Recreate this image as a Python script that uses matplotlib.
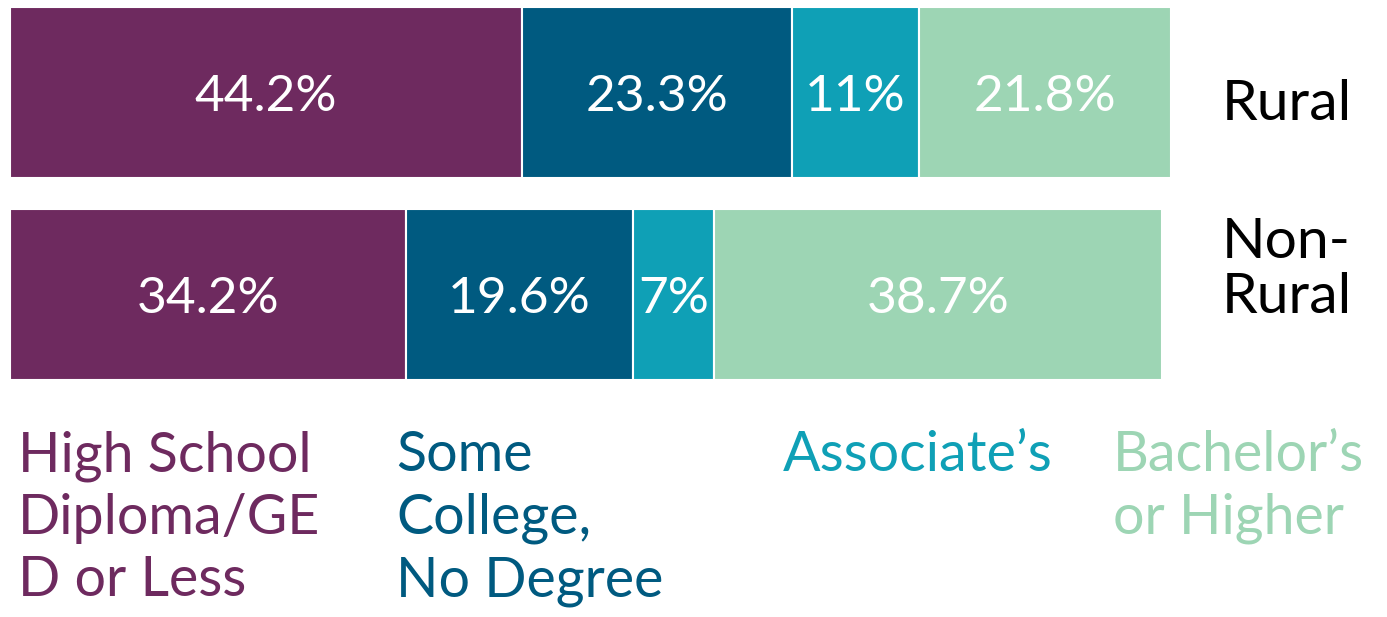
import matplotlib
matplotlib.use("Agg")
import matplotlib.pyplot as plt

# Educational attainment shares (%) by area
groups = ["Non-\nRural", "Rural"]
categories = ["High School\nDiploma/GE\nD or Less", "Some\nCollege,\nNo Degree",
              "Associate\u2019s", "Bachelor\u2019s\nor Higher"]
rural = [44.2, 23.3, 11, 21.8]
non_rural = [34.2, 19.6, 7, 38.7]
rural_labels = ["44.2%", "23.3%", "11%", "21.8%"]
non_rural_labels = ["34.2%", "19.6%", "7%", "38.7%"]
colors = ["#6E2A5F", "#005A80", "#0FA0B6", "#9DD5B4"]

W, H = 1387, 617
fig = plt.figure(figsize=(W / 100, H / 100), dpi=100)
fig.patch.set_facecolor("white")

# axes spans the bar area in pixels
left_px, right_px = 10, 1168
top_px, bottom_px = 7, 380
ax = fig.add_axes([left_px / W, (H - bottom_px) / H,
                   (right_px - left_px) / W, (bottom_px - top_px) / H])
bar_h = 0.85
ax.set_xlim(0, 100)
ax.set_ylim(-bar_h / 2, 1 + bar_h / 2)
ax.axis("off")

rows = [(1, rural, rural_labels), (0, non_rural, non_rural_labels)]
for ypos, vals, labs in rows:
    start = 0
    for v, lab, c in zip(vals, labs, colors):
        ax.barh(ypos, v, left=start, height=bar_h, color=c,
                edgecolor="white", linewidth=1.5, clip_on=False)
        ax.text(start + v / 2, ypos, lab, ha="center", va="center_baseline",
                color="white", fontsize=37, family="Lato", clip_on=False)
        start += v

# row names on the right
fig.text(1222 / W, 1 - 105 / H, "Rural", ha="left", va="center",
         fontsize=41, family="Lato", color="black")
fig.text(1222 / W, 1 - 270 / H, groups[0], ha="left", va="center",
         fontsize=41, family="Lato", color="black", linespacing=1.1)

# category legend below the bars
legend_x = [18, 396, 783, 1113]
for x, txt, c in zip(legend_x, categories, colors):
    fig.text(x / W, 1 - 430 / H, txt, ha="left", va="top",
             fontsize=40, family="Lato", color=c, linespacing=1.28)

fig.savefig("out.png", dpi=100, facecolor="white")
